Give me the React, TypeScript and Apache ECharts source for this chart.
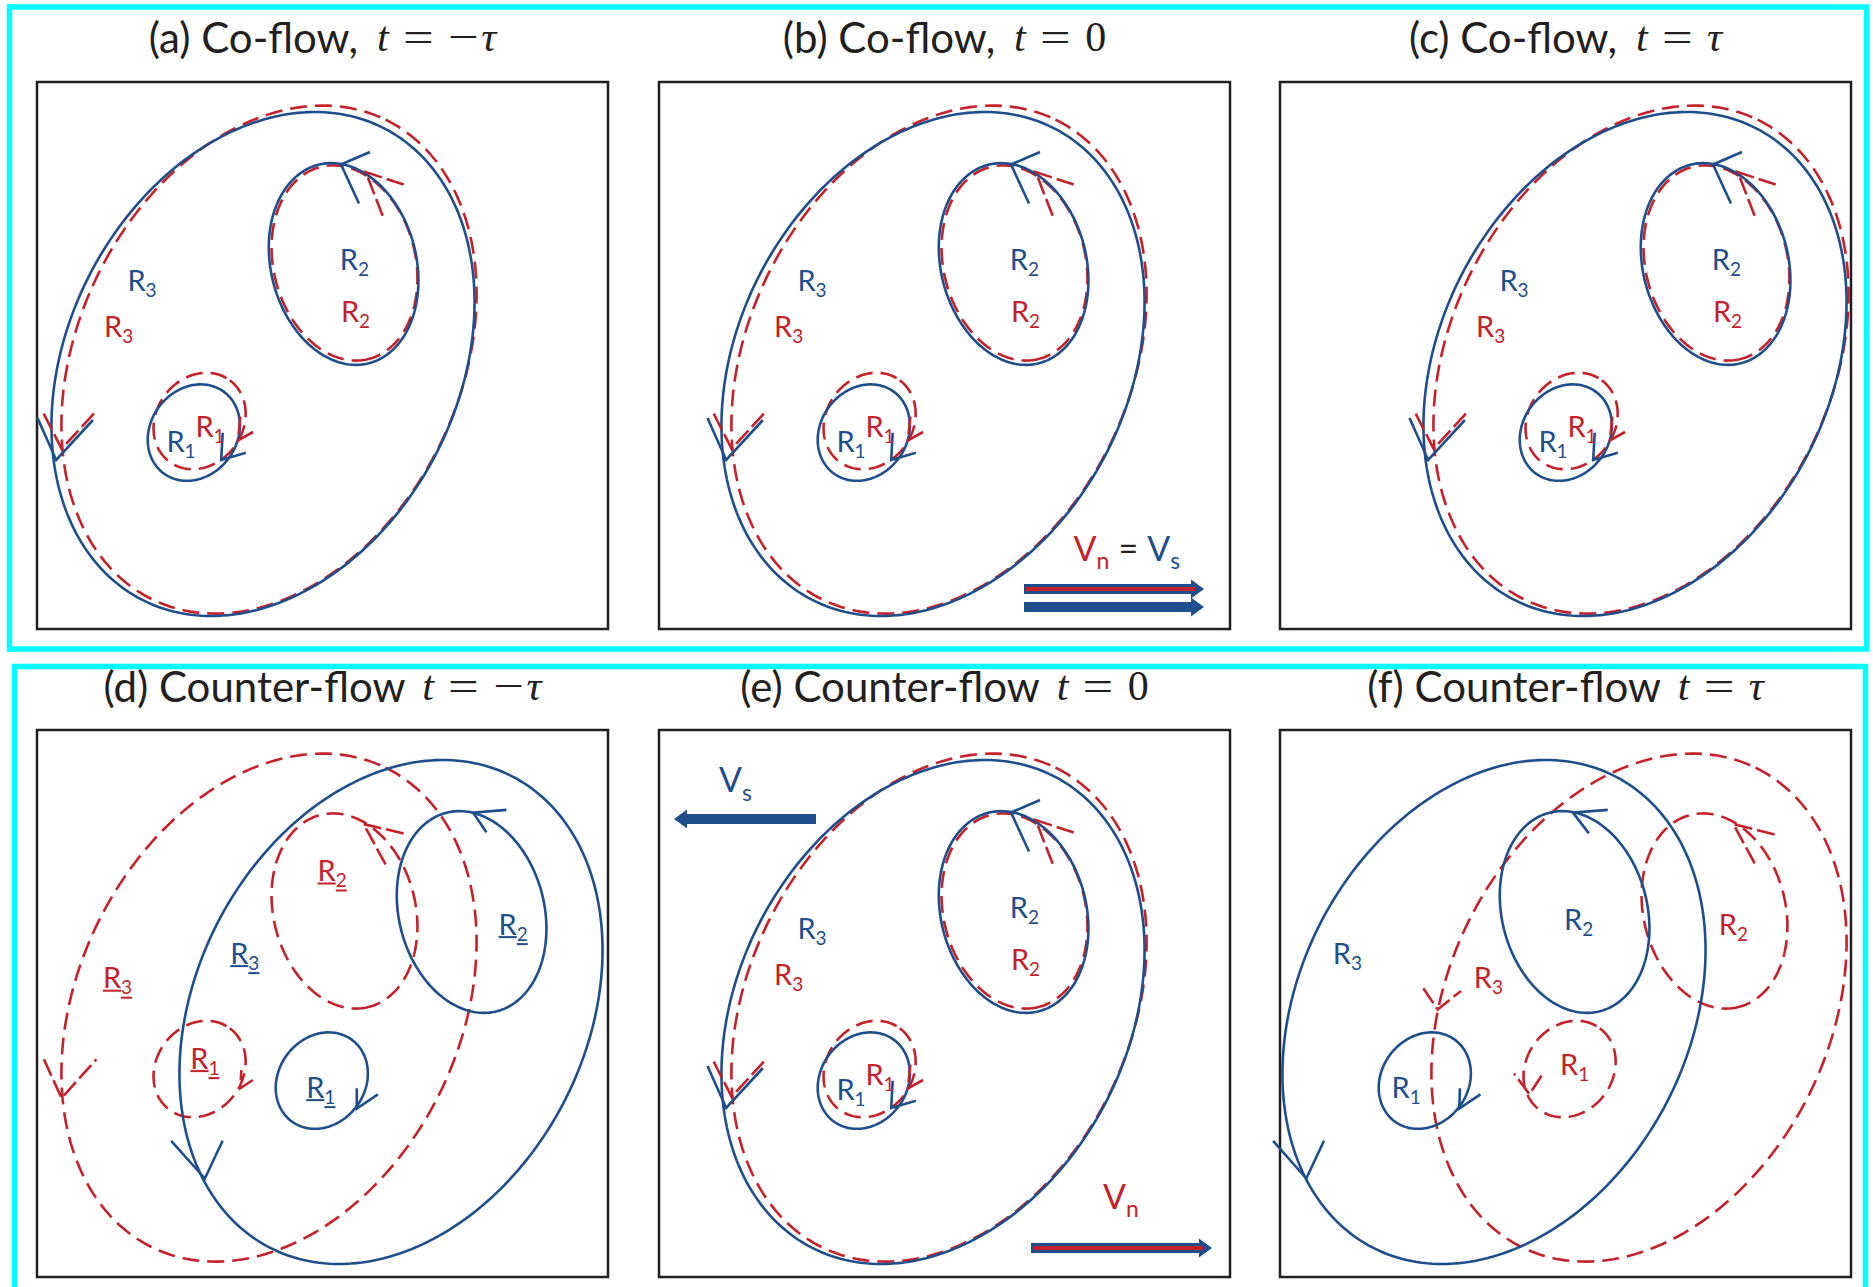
import React, { useEffect, useRef } from "react";
import * as echarts from "echarts";

// ---------- page layout ----------
const WIDTH = 1873;
const HEIGHT = 1287;
const PANEL_W = 571;
const PANEL_H = 547;
const PANEL_X = [37, 659, 1280, 37, 659, 1280];
const PANEL_Y = [82, 82, 82, 730, 730, 730];
const TITLE_Y = [37, 37, 37, 686, 686, 686];

const BLUE = "#1F4E8C";
const RED = "#C4212B";
const INK = "#231F20";
const CYAN = "#00FFFF";
const LABEL_FONT = "Lato, 'Open Sans', sans-serif";
const TITLE_FONT = "Lato, 'Open Sans', sans-serif";
const MATH_FONT = "'Liberation Serif', 'DejaVu Serif', serif";

// ---------- data ----------
const PANEL_NAMES = [
  "(a) Co-flow,",
  "(b) Co-flow,",
  "(c) Co-flow,",
  "(d) Counter-flow",
  "(e) Counter-flow",
  "(f) Counter-flow",
];
const PANEL_TIMES = ["−τ", "0", "τ", "−τ", "0", "τ"];

// vortex loops in panel units: [centre x, centre y, semi-major, semi-minor, tilt deg]
const SUPER_LOOPS = [
  [226, 282, 265, 195, -62.8], // R3
  [306.6, 182, 102.4, 72.7, 75.8], // R2
  [156.8, 350.6, 50.7, 43.3, -53.5], // R1
];
const NORMAL_LOOPS = [
  [232, 277.6, 266.7, 191, -64.1],
  [307.5, 181, 99, 71, 76],
  [162.6, 339, 50.7, 43.3, -53.5],
];
// horizontal displacement of each fluid's loops, per panel (a..f)
const SUPER_SHIFT = [0, 48, 129, 128, 48, -12];
const NORMAL_SHIFT = [0, 48, 129, 0, 48, 127];

// direction chevrons: [tip x, tip y, arm1 x, arm1 y, arm2 x, arm2 y]
const CO_SUPER_CHEVRONS = [
  [19.2, 378, 0.5, 336, 55.9, 338],
  [304, 82.5, 333, 70, 322, 121.5],
  [184.2, 378, 208.8, 370.8, 185.7, 350.7],
];
const CO_NORMAL_CHEVRONS = [
  [24.6, 366.7, 6.7, 331.7, 59.5, 328.8],
  [328.7, 90, 366.7, 102.6, 346.6, 136.2],
  [201, 358.3, 216, 350, 203.4, 333.8],
];
const D_SUPER_CHEVRONS = [
  [167.9, 448.5, 134.2, 410.8, 185.6, 410.8],
  [436.2, 82.6, 469.4, 79.9, 449.4, 102.3],
  [319.8, 378.5, 340.9, 364.3, 319.8, 358.3],
];
const D_NORMAL_CHEVRONS = [
  [24.6, 368.1, 6.9, 329.3, 59.4, 329.3],
  [326.6, 94.1, 366.6, 103.4, 348.9, 135.1],
  [203.3, 358.3, 215.8, 350, 204.4, 340.2],
];
const F_SUPER_CHEVRONS = [
  [26.3, 448.5, -6.9, 410.8, 44, 410.8],
  [292.9, 82.6, 327.8, 79.9, 308.9, 103.4],
  [179.3, 378.5, 200.4, 364.3, 179.9, 358.3],
];
const F_NORMAL_CHEVRONS = [
  [157.6, 279.5, 143.3, 258.2, 181, 260.9],
  [453.4, 94.1, 494.5, 104.5, 476.8, 137.3],
  [249.5, 364.3, 261.5, 345.7, 234.1, 343.5],
];

// region labels: [centre x, centre y, index of R]
const CO_SUPER_LABELS = [
  [105, 197, 3],
  [317.4, 176, 2],
  [144, 358, 1],
];
const CO_NORMAL_LABELS = [
  [81.7, 243.4, 3],
  [318.5, 228.8, 2],
  [173, 343, 1],
];
const D_SUPER_LABELS = [
  [207.8, 222.1, 3],
  [476.2, 193.1, 2],
  [283.8, 356.1, 1],
];
const D_NORMAL_LABELS = [
  [80.5, 246.7, 3],
  [295.2, 139.5, 2],
  [167.9, 327.1, 1],
];
const F_SUPER_LABELS = [
  [67.4, 222.1, 3],
  [298.6, 188.7, 2],
  [126.2, 356.1, 1],
];
const F_NORMAL_LABELS = [
  [208.4, 246.7, 3],
  [453.4, 193.1, 2],
  [294.6, 333.1, 1],
];

// velocity arrows: [tail x, head x, y]
const B_BOTH_ARROW = [[365, 545, 507]];
const B_SUPER_ARROW = [[365, 545, 525]];
const E_SUPER_ARROW = [[157, 15, 89]];
const E_NORMAL_ARROW = [[372, 553, 518]];
// velocity labels: [left x, middle y]
const B_VELOCITY_LABEL = [[414.6, 465]];
const E_SUPER_LABEL = [[60, 48.7]];
const E_NORMAL_LABEL = [[444, 465.4]];

// ---------- helpers ----------
let measureCtx: CanvasRenderingContext2D | null = null;
function textWidth(s: string, font: string): number {
  if (!measureCtx) measureCtx = document.createElement("canvas").getContext("2d");
  measureCtx!.font = font;
  return measureCtx!.measureText(s).width;
}

function shiftX(rows: number[][], dx: number, cols: number[]) {
  return rows.map((r) => r.map((v, i) => (cols.includes(i) ? v + dx : v)));
}

const LOOP_WIDTH = 2.6;

const loopRender = (stroke: string, dash: number[] | null) => (params: any, api: any) => {
  const cx = api.value(0);
  const cy = api.value(1);
  const a = api.value(2);
  const b = api.value(3);
  const t = (api.value(4) * Math.PI) / 180;
  const pts: number[][] = [];
  const n = 240;
  for (let i = 0; i <= n; i++) {
    const u = (i / n) * Math.PI * 2;
    const x = cx + a * Math.cos(u) * Math.cos(t) - b * Math.sin(u) * Math.sin(t);
    const y = cy + a * Math.cos(u) * Math.sin(t) + b * Math.sin(u) * Math.cos(t);
    pts.push(api.coord([x, y]));
  }
  return {
    type: "polyline",
    shape: { points: pts },
    style: { stroke, lineWidth: LOOP_WIDTH, lineDash: dash || undefined, fill: "none" },
  };
};

const chevronRender = (stroke: string, dash: number[] | null) => (params: any, api: any) => {
  const tip = api.coord([api.value(0), api.value(1)]);
  const a1 = api.coord([api.value(2), api.value(3)]);
  const a2 = api.coord([api.value(4), api.value(5)]);
  return {
    type: "polyline",
    shape: { points: [a1, tip, a2] },
    style: { stroke, lineWidth: LOOP_WIDTH, lineDash: dash || undefined, fill: "none" },
  };
};

const LABEL_SIZE = 29;
const SUB_SIZE = 19;
function plainText(x: number, y: number, text: string, fill: string, size: number, family: string, extra: any = {}) {
  return {
    type: "text",
    x,
    y,
    style: {
      text,
      fill,
      fontSize: size,
      fontFamily: family,
      align: "left",
      verticalAlign: "middle",
      textAlign: "left",
      textVerticalAlign: "middle",
      ...extra,
    },
  };
}

const labelRender = (fill: string, underline: boolean) => (params: any, api: any) => {
  const [px, py] = api.coord([api.value(0), api.value(1)]);
  const sub = String(api.value(2));
  const wR = textWidth("R", `${LABEL_SIZE}px ${LABEL_FONT}`);
  const wS = textWidth(sub, `${SUB_SIZE}px ${LABEL_FONT}`);
  const left = px - (wR + wS) / 2;
  const children: any[] = [
    plainText(left, py, "R", fill, LABEL_SIZE, LABEL_FONT),
    plainText(left + wR, py + 10, sub, fill, SUB_SIZE, LABEL_FONT),
  ];
  if (underline) {
    children.push({
      type: "line",
      shape: { x1: left, y1: py + 14, x2: left + wR, y2: py + 14 },
      style: { stroke: fill, lineWidth: 2 },
    });
    children.push({
      type: "line",
      shape: { x1: left + wR, y1: py + 21, x2: left + wR + wS, y2: py + 21 },
      style: { stroke: fill, lineWidth: 2 },
    });
  }
  return { type: "group", children };
};

const flowArrowRender = (dual: boolean) => (params: any, api: any) => {
  const p0 = api.coord([api.value(0), api.value(2)]);
  const p1 = api.coord([api.value(1), api.value(2)]);
  const d = Math.sign(p1[0] - p0[0]);
  const y = p0[1];
  const hb = 5;
  const hh = 9.5;
  const hl = 13;
  const neck = p1[0] - d * hl;
  const children: any[] = [
    {
      type: "polygon",
      shape: {
        points: [
          [p0[0], y - hb],
          [neck, y - hb],
          [neck, y - hh],
          [p1[0], y],
          [neck, y + hh],
          [neck, y + hb],
          [p0[0], y + hb],
        ],
      },
      style: { fill: BLUE },
    },
  ];
  if (dual) {
    children.push({
      type: "line",
      shape: { x1: p0[0] + d * 2, y1: y, x2: p1[0] - d * 9, y2: y },
      style: { stroke: RED, lineWidth: 4 },
    });
  }
  return { type: "group", children };
};

const V_SIZE = 34;
const V_SUB = 23;
type Piece = { text: string; fill: string; sub?: boolean; gap?: number };
const velocityRender = (pieces: Piece[]) => (params: any, api: any) => {
  const [px, py] = api.coord([api.value(0), api.value(1)]);
  let x = px;
  const children: any[] = [];
  for (const p of pieces) {
    const size = p.sub ? V_SUB : V_SIZE;
    const w = textWidth(p.text, `${size}px ${LABEL_FONT}`);
    children.push(plainText(x, py + (p.sub ? 13 : 0), p.text, p.fill, size, LABEL_FONT));
    x += w + (p.gap || 0);
  }
  return { type: "group", children };
};

function custom(panel: number, data: number[][], renderItem: any) {
  return {
    type: "custom",
    xAxisIndex: panel,
    yAxisIndex: panel,
    data,
    renderItem,
    clip: false,
    silent: true,
  };
}

// panel heading: sans caption followed by an italic-math time stamp
const TITLE_SIZE = 42;
function titleGroup(i: number) {
  const fs = TITLE_SIZE;
  const sansFont = `${fs}px ${TITLE_FONT}`;
  const italFont = `italic ${fs}px ${MATH_FONT}`;
  const upFont = `${fs}px ${MATH_FONT}`;
  const relScale = 1.3;
  type P = { text: string; kind: "sans" | "ital" | "up" | "rel"; gap: number };
  const pieces: P[] = [{ text: PANEL_NAMES[i], kind: "sans", gap: fs * (i < 3 ? 0.45 : 0.4) }];
  pieces.push({ text: "t", kind: "ital", gap: fs * 0.34 });
  pieces.push({ text: "=", kind: "rel", gap: fs * 0.34 });
  for (const ch of PANEL_TIMES[i]) {
    if (ch === "τ") pieces.push({ text: ch, kind: "ital", gap: 0 });
    else if (ch === "−") pieces.push({ text: ch, kind: "rel", gap: fs * 0.06 });
    else pieces.push({ text: ch, kind: "up", gap: 0 });
  }
  const widthOf = (p: P) => {
    if (p.kind === "sans") return textWidth(p.text, sansFont);
    if (p.kind === "ital") return textWidth(p.text, italFont);
    if (p.kind === "up") return textWidth(p.text, upFont);
    return textWidth(p.text, upFont) * relScale;
  };
  const total = pieces.reduce((s, p) => s + widthOf(p) + p.gap, 0);
  let x = PANEL_X[i] + PANEL_W / 2 - total / 2;
  const children: any[] = [];
  for (const p of pieces) {
    const el: any = plainText(
      x,
      TITLE_Y[i],
      p.text,
      INK,
      fs,
      p.kind === "sans" ? TITLE_FONT : MATH_FONT,
      p.kind === "ital" ? { fontStyle: "italic" } : {}
    );
    if (p.kind === "rel") el.scaleX = relScale;
    children.push(el);
    x += widthOf(p) + p.gap;
  }
  return { type: "group", z: 100, children };
}

function buildOption() {
  const grid = PANEL_X.map((x, i) => ({
    left: x,
    top: PANEL_Y[i],
    width: PANEL_W,
    height: PANEL_H,
    show: true,
    borderColor: INK,
    borderWidth: 2.5,
    backgroundColor: "#fff",
  }));
  const xAxis = grid.map((_, i) => ({ gridIndex: i, type: "value", min: 0, max: PANEL_W, show: false }));
  const yAxis = grid.map((_, i) => ({
    gridIndex: i,
    type: "value",
    min: 0,
    max: PANEL_H,
    inverse: true,
    show: false,
  }));

  const co = (rows: number[][], dx: number, cols: number[]) => shiftX(rows, dx, cols);
  const superChevrons = [
    co(CO_SUPER_CHEVRONS, SUPER_SHIFT[0], [0, 2, 4]),
    co(CO_SUPER_CHEVRONS, SUPER_SHIFT[1], [0, 2, 4]),
    co(CO_SUPER_CHEVRONS, SUPER_SHIFT[2], [0, 2, 4]),
    D_SUPER_CHEVRONS,
    co(CO_SUPER_CHEVRONS, SUPER_SHIFT[4], [0, 2, 4]),
    F_SUPER_CHEVRONS,
  ];
  const normalChevrons = [
    co(CO_NORMAL_CHEVRONS, NORMAL_SHIFT[0], [0, 2, 4]),
    co(CO_NORMAL_CHEVRONS, NORMAL_SHIFT[1], [0, 2, 4]),
    co(CO_NORMAL_CHEVRONS, NORMAL_SHIFT[2], [0, 2, 4]),
    D_NORMAL_CHEVRONS,
    co(CO_NORMAL_CHEVRONS, NORMAL_SHIFT[4], [0, 2, 4]),
    F_NORMAL_CHEVRONS,
  ];
  const superLabels = [
    co(CO_SUPER_LABELS, SUPER_SHIFT[0], [0]),
    co(CO_SUPER_LABELS, SUPER_SHIFT[1], [0]),
    co(CO_SUPER_LABELS, SUPER_SHIFT[2], [0]),
    D_SUPER_LABELS,
    co(CO_SUPER_LABELS, SUPER_SHIFT[4], [0]),
    F_SUPER_LABELS,
  ];
  const normalLabels = [
    co(CO_NORMAL_LABELS, NORMAL_SHIFT[0], [0]),
    co(CO_NORMAL_LABELS, NORMAL_SHIFT[1], [0]),
    co(CO_NORMAL_LABELS, NORMAL_SHIFT[2], [0]),
    D_NORMAL_LABELS,
    co(CO_NORMAL_LABELS, NORMAL_SHIFT[4], [0]),
    F_NORMAL_LABELS,
  ];

  const dash = [17, 8];
  const series: any[] = [];
  for (let p = 0; p < 6; p++) {
    const underline = p === 3;
    series.push(custom(p, shiftX(NORMAL_LOOPS, NORMAL_SHIFT[p], [0]), loopRender(RED, dash)));
    series.push(custom(p, shiftX(SUPER_LOOPS, SUPER_SHIFT[p], [0]), loopRender(BLUE, null)));
    series.push(custom(p, normalChevrons[p], chevronRender(RED, [18, 5])));
    series.push(custom(p, superChevrons[p], chevronRender(BLUE, null)));
    series.push(custom(p, normalLabels[p], labelRender(RED, underline)));
    series.push(custom(p, superLabels[p], labelRender(BLUE, underline)));
  }
  series.push(custom(1, B_BOTH_ARROW, flowArrowRender(true)));
  series.push(custom(1, B_SUPER_ARROW, flowArrowRender(false)));
  series.push(custom(4, E_SUPER_ARROW, flowArrowRender(false)));
  series.push(custom(4, E_NORMAL_ARROW, flowArrowRender(true)));
  series.push(
    custom(
      1,
      B_VELOCITY_LABEL,
      velocityRender([
        { text: "V", fill: RED },
        { text: "n", fill: RED, sub: true, gap: 9 },
        { text: "=", fill: INK, gap: 9 },
        { text: "V", fill: BLUE },
        { text: "s", fill: BLUE, sub: true },
      ])
    )
  );
  series.push(
    custom(4, E_SUPER_LABEL, velocityRender([{ text: "V", fill: BLUE }, { text: "s", fill: BLUE, sub: true }]))
  );
  series.push(
    custom(4, E_NORMAL_LABEL, velocityRender([{ text: "V", fill: RED }, { text: "n", fill: RED, sub: true }]))
  );

  const graphic: any[] = [
    {
      type: "rect",
      shape: { x: 9.5, y: 7, width: 1857, height: 642 },
      style: { fill: "none", stroke: CYAN, lineWidth: 5.5 },
      z: 100,
    },
    {
      type: "rect",
      shape: { x: 14.5, y: 666.5, width: 1851, height: 700 },
      style: { fill: "none", stroke: CYAN, lineWidth: 5.5 },
      z: 100,
    },
  ];
  for (let i = 0; i < 6; i++) graphic.push(titleGroup(i));

  return {
    animation: false,
    backgroundColor: "#fff",
    grid,
    xAxis,
    yAxis,
    series,
    graphic,
  };
}

export default function App() {
  const ref = useRef<HTMLDivElement>(null);
  useEffect(() => {
    document.body.style.margin = "0";
    const chart = echarts.init(ref.current!, null, { renderer: "svg" });
    chart.setOption(buildOption() as any);
    return () => chart.dispose();
  }, []);
  return (
    <div
      ref={ref}
      style={{ position: "absolute", left: 0, top: 0, width: WIDTH, height: HEIGHT, background: "#fff" }}
    />
  );
}
